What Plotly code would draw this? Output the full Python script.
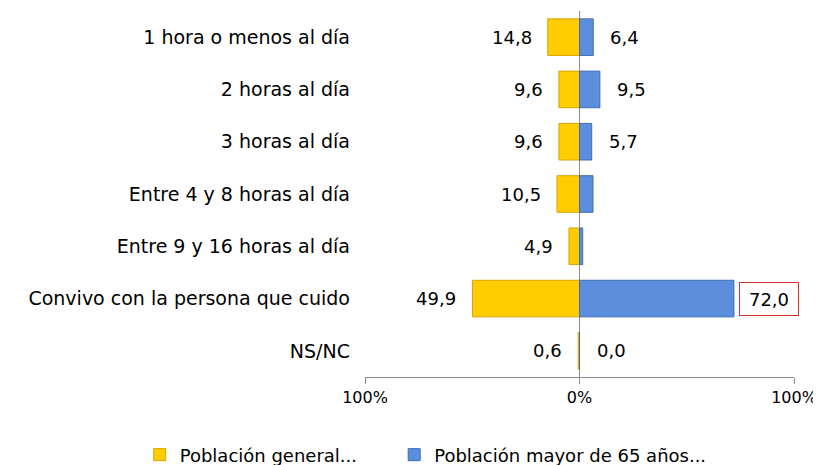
import plotly.graph_objects as go

categorias = ['1 hora o menos al día', '2 horas al día', '3 horas al día',
              'Entre 4 y 8 horas al día', 'Entre 9 y 16 horas al día',
              'Convivo con la persona que cuido', 'NS/NC']
general = [14.8, 9.6, 9.6, 10.5, 4.9, 49.9, 0.6]
mayores = [6.4, 9.5, 5.7, 6.3, 1.5, 72.0, 0.0]
etiq_general = ['14,8', '9,6', '9,6', '10,5', '4,9', '49,9', '0,6']
etiq_mayores = ['6,4', '9,5', '5,7', '', '', '72,0', '0,0']

FONT = 'DejaVu Sans'

fig = go.Figure()
fig.add_trace(go.Bar(
    y=categorias, x=[-v for v in general], orientation='h',
    name='Población general...', legend='legend', showlegend=True,
    marker=dict(color='#FFCC00', line=dict(color='#D9A400', width=1)),
))
fig.add_trace(go.Bar(
    y=categorias, x=mayores, orientation='h',
    name='Población mayor de 65 años...', legend='legend2', showlegend=True,
    marker=dict(color='#5B8FDD', line=dict(color='#3F6CB0', width=1)),
))

annotations = []
for cat, v, t in zip(categorias, general, etiq_general):
    annotations.append(dict(x=-v, y=cat, text=t, showarrow=False,
                            xanchor='right', xshift=-14,
                            font=dict(size=18, color='#000000', family=FONT)))
for cat, v, t in zip(categorias, mayores, etiq_mayores):
    if not t:
        continue
    if t == '72,0':
        annotations.append(dict(x=v, y=cat, text=t, showarrow=False,
                                xanchor='left', xshift=5, width=48, height=22,
                                bordercolor='#D9302A', borderwidth=1, borderpad=5,
                                bgcolor='white',
                                font=dict(size=18, color='#000000', family=FONT)))
    else:
        annotations.append(dict(x=v, y=cat, text=t, showarrow=False,
                                xanchor='left', xshift=15,
                                font=dict(size=18, color='#000000', family=FONT)))

leg = dict(orientation='h', xref='container', yref='container',
           xanchor='left', y=0.022, yanchor='middle', font=dict(size=18))

fig.update_layout(
    width=813, height=457,
    showlegend=True,
    barmode='relative', bargap=0.3,
    plot_bgcolor='white', paper_bgcolor='white',
    margin=dict(l=357, r=27, t=3, b=88, autoexpand=False),
    font=dict(family=FONT, size=18, color='#000000'),
    xaxis=dict(range=[-100, 100], tickvals=[-100, 0, 100],
               ticktext=['100%', '0%', '100%'],
               showgrid=False, zeroline=True, zerolinecolor='#8C8C8C', zerolinewidth=1,
               showline=True, linecolor='#8C8C8C', ticks='outside',
               tickcolor='#8C8C8C', ticklen=6, tickfont=dict(size=16)),
    yaxis=dict(autorange='reversed', showgrid=False, showline=False,
               ticks='', ticklabelstandoff=14, tickfont=dict(size=19)),
    legend=dict(leg, x=0.162),
    legend2=dict(leg, x=0.475),
    annotations=annotations,
)

fig.write_html('out.html')
